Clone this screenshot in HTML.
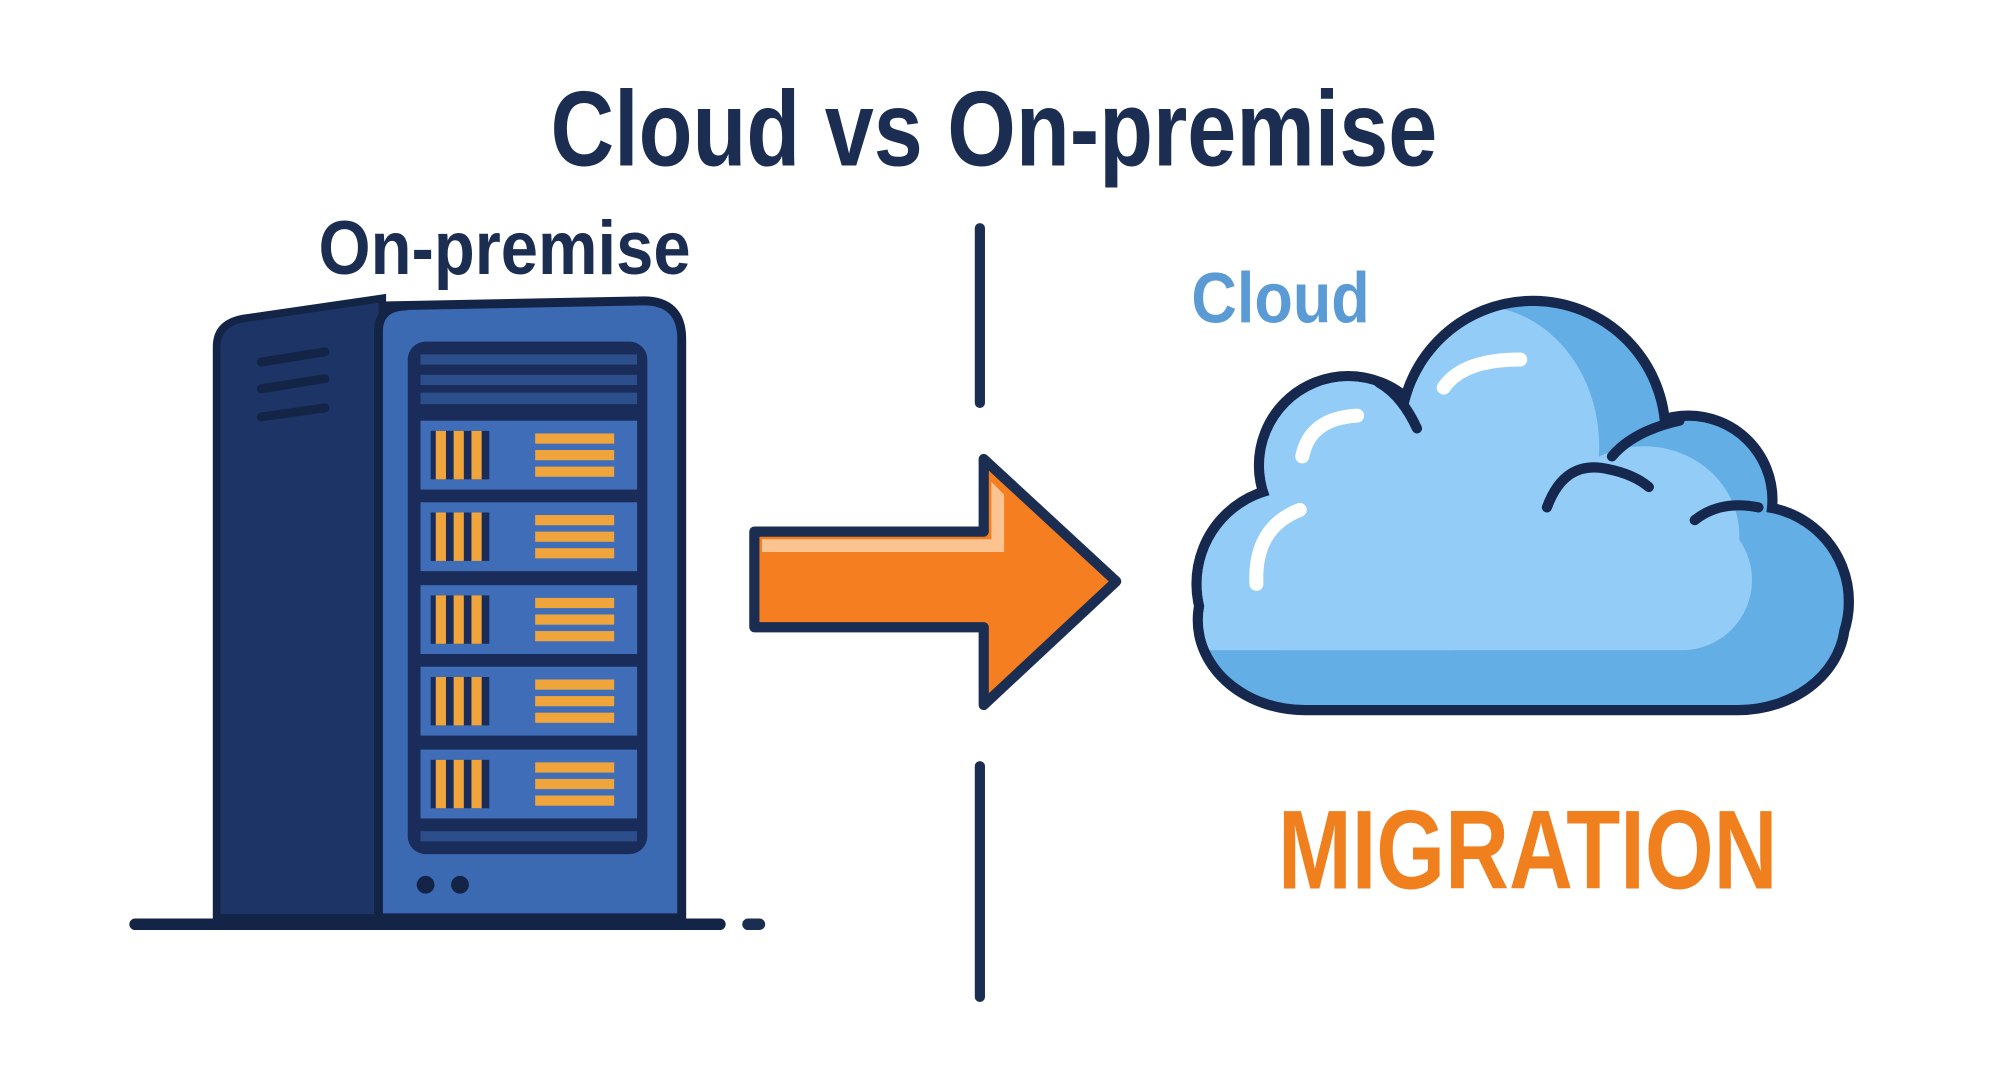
<!DOCTYPE html>
<html><head><meta charset="utf-8"><style>
html,body{margin:0;padding:0;background:#fff;}
svg{display:block;}
text{font-family:"Liberation Sans",sans-serif;font-weight:bold;}
</style></head><body>
<svg width="1998" height="1090" viewBox="0 0 1568 855" preserveAspectRatio="none" xmlns="http://www.w3.org/2000/svg">
<defs>
<clipPath id="cc">
<circle cx="1015" cy="458" r="72"/>
<circle cx="1058" cy="365" r="66"/>
<circle cx="1203" cy="340" r="100"/>
<circle cx="1325" cy="392" r="62"/>
<circle cx="1376" cy="472" r="71"/>
<rect x="944" y="420" width="500" height="133" rx="80"/>
<rect x="1030" y="360" width="320" height="120"/>
</clipPath>
</defs>
<rect width="1568" height="855" fill="#fff"/>
<text x="432" y="130" font-size="84" fill="#1c2d52" textLength="696" lengthAdjust="spacingAndGlyphs">Cloud vs On-premise</text>
<text x="250" y="215" font-size="60" fill="#1c2d52" textLength="292" lengthAdjust="spacingAndGlyphs">On-premise</text>
<text x="935" y="253" font-size="56" fill="#5b9bd5" textLength="140" lengthAdjust="spacingAndGlyphs">Cloud</text>
<text x="1003" y="697" font-size="88" fill="#f07f1e" textLength="392" lengthAdjust="spacingAndGlyphs">MIGRATION</text>
<line x1="769" y1="179" x2="769" y2="316" stroke="#1c2d52" stroke-width="8" stroke-linecap="round"/>
<line x1="769" y1="601" x2="769" y2="782" stroke="#1c2d52" stroke-width="8" stroke-linecap="round"/>
<polygon points="592,417 772,417 772,360 876,456 772,553 772,492 592,492" fill="#f57f20" stroke="#1c2d52" stroke-width="8" stroke-linejoin="round"/>
<polygon points="598,423 778,423 778,378 788,388 788,433 598,433" fill="#fbc38f"/>
<path d="M190,250 L300,234 L300,720 L170,720 L170,272 Q170,254 190,250 Z" fill="#1d3566" stroke="#132447" stroke-width="6"/>
<path d="M300,240 L505,236 Q535,236 535,266 L535,720 L297,720 L297,260 Q297,240 320,240 Z" fill="#3b69b2" stroke="#132447" stroke-width="7"/>
<line x1="205" y1="284" x2="255" y2="276" stroke="#132447" stroke-width="7" stroke-linecap="round"/>
<line x1="205" y1="305" x2="255" y2="297" stroke="#132447" stroke-width="7" stroke-linecap="round"/>
<line x1="205" y1="327" x2="255" y2="320" stroke="#132447" stroke-width="7" stroke-linecap="round"/>
<rect x="320" y="268" width="188" height="402" rx="14" fill="#1a2d5a"/>
<rect x="330" y="278" width="170" height="8" fill="#2c4f8c"/>
<rect x="330" y="294" width="170" height="8" fill="#2c4f8c"/>
<rect x="330" y="308" width="170" height="9" fill="#2c4f8c"/>
<rect x="330" y="330" width="170" height="54" fill="#3f6db7"/>
<rect x="330" y="394" width="170" height="54" fill="#3f6db7"/>
<rect x="330" y="459" width="170" height="54" fill="#3f6db7"/>
<rect x="330" y="523" width="170" height="54" fill="#3f6db7"/>
<rect x="330" y="588" width="170" height="54" fill="#3f6db7"/>
<rect x="330" y="652" width="170" height="8" fill="#2c4f8c"/>
<g fill="#f0a53c">
<g><rect x="338" y="338" width="46" height="38" fill="#1a2d5a"/><rect x="342" y="338" width="8" height="38"/><rect x="356" y="338" width="8" height="38"/><rect x="370" y="338" width="8" height="38"/><rect x="420" y="340" width="62" height="8"/><rect x="420" y="353" width="62" height="8"/><rect x="420" y="366" width="62" height="8"/></g>
<g transform="translate(0,64)"><rect x="338" y="338" width="46" height="38" fill="#1a2d5a"/><rect x="342" y="338" width="8" height="38"/><rect x="356" y="338" width="8" height="38"/><rect x="370" y="338" width="8" height="38"/><rect x="420" y="340" width="62" height="8"/><rect x="420" y="353" width="62" height="8"/><rect x="420" y="366" width="62" height="8"/></g>
<g transform="translate(0,129)"><rect x="338" y="338" width="46" height="38" fill="#1a2d5a"/><rect x="342" y="338" width="8" height="38"/><rect x="356" y="338" width="8" height="38"/><rect x="370" y="338" width="8" height="38"/><rect x="420" y="340" width="62" height="8"/><rect x="420" y="353" width="62" height="8"/><rect x="420" y="366" width="62" height="8"/></g>
<g transform="translate(0,193)"><rect x="338" y="338" width="46" height="38" fill="#1a2d5a"/><rect x="342" y="338" width="8" height="38"/><rect x="356" y="338" width="8" height="38"/><rect x="370" y="338" width="8" height="38"/><rect x="420" y="340" width="62" height="8"/><rect x="420" y="353" width="62" height="8"/><rect x="420" y="366" width="62" height="8"/></g>
<g transform="translate(0,258)"><rect x="338" y="338" width="46" height="38" fill="#1a2d5a"/><rect x="342" y="338" width="8" height="38"/><rect x="356" y="338" width="8" height="38"/><rect x="370" y="338" width="8" height="38"/><rect x="420" y="340" width="62" height="8"/><rect x="420" y="353" width="62" height="8"/><rect x="420" y="366" width="62" height="8"/></g>
</g>
<circle cx="334" cy="694" r="7" fill="#132447"/>
<circle cx="361" cy="694" r="7" fill="#132447"/>
<line x1="106" y1="725" x2="565" y2="725" stroke="#132447" stroke-width="9" stroke-linecap="round"/>
<line x1="587" y1="725" x2="596" y2="725" stroke="#1c2d52" stroke-width="9" stroke-linecap="round"/>
<g stroke="#16284d" stroke-width="16">
<circle cx="1015" cy="458" r="72"/>
<circle cx="1058" cy="365" r="66"/>
<circle cx="1203" cy="340" r="100"/>
<circle cx="1325" cy="392" r="62"/>
<circle cx="1376" cy="472" r="71"/>
<rect x="944" y="420" width="500" height="133" rx="80"/>
</g>
<g clip-path="url(#cc)">
<rect x="900" y="220" width="600" height="360" fill="#64aee6"/>
<ellipse cx="1160" cy="350" rx="95" ry="110" fill="#92ccf7"/>
<ellipse cx="1290" cy="420" rx="75" ry="70" fill="#92ccf7"/>
<rect x="930" y="280" width="210" height="230" fill="#92ccf7"/>
<rect x="955" y="400" width="420" height="110" rx="55" fill="#92ccf7"/>
</g>
<path d="M1214,398 Q1228,360 1262,368 Q1282,372 1294,382" fill="none" stroke="#16284d" stroke-width="8" stroke-linecap="round"/>
<path d="M1330,408 Q1350,392 1380,398" fill="none" stroke="#16284d" stroke-width="8" stroke-linecap="round"/>
<path d="M1112,336 Q1100,310 1082,300" fill="none" stroke="#16284d" stroke-width="8" stroke-linecap="round"/>
<path d="M1265,358 Q1282,338 1318,330" fill="none" stroke="#16284d" stroke-width="8" stroke-linecap="round"/>
<g fill="none" stroke="#fff" stroke-width="11" stroke-linecap="round">
<path d="M1133,304 Q1148,282 1193,282"/>
<path d="M1022,358 Q1028,328 1065,326"/>
<path d="M986,458 Q984,414 1020,400"/>
</g>
</svg>
</body></html>
